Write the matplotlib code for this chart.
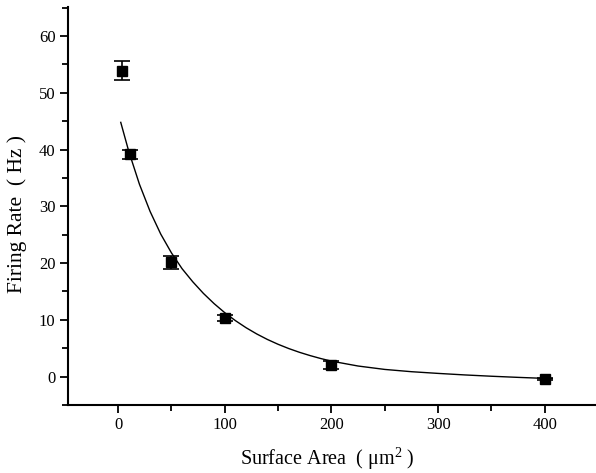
import numpy as np
import matplotlib.pyplot as plt
from matplotlib.ticker import MultipleLocator

# datos medidos
area = [3.5, 11, 50, 100, 200, 400]
tasa = [53.9, 39.2, 20.1, 10.3, 2.0, -0.5]
error = [1.7, 0.8, 1.1, 0.6, 0.7, 0.2]

# curva de ajuste
curva_x = [2.5, 10, 20, 30, 40, 50, 60, 70, 80, 90, 100, 110, 120, 130,
           140, 150, 160, 170, 180, 190, 200, 225, 250, 275, 300, 325,
           350, 375, 400, 407]
curva_y = [44.8, 39.7, 33.9, 29.1, 25.1, 21.8, 19.0, 16.7, 14.65, 12.85,
           11.25, 9.85, 8.6, 7.5, 6.53, 5.68, 4.93, 4.27, 3.69, 3.17, 2.71,
           1.85, 1.25, 0.85, 0.55, 0.28, 0.05, -0.15, -0.33, -0.37]

plt.rcParams['font.family'] = ['Liberation Serif', 'DejaVu Serif']
plt.rcParams['mathtext.fontset'] = 'custom'
plt.rcParams['mathtext.rm'] = 'Liberation Serif'

fig = plt.figure(figsize=(5.96, 4.73), dpi=100)
ax = fig.add_axes([0.114, 0.144, 0.886, 0.842])

ax.plot(curva_x, curva_y, color='black', linewidth=1.0)
ax.errorbar(area, tasa, yerr=error, fmt='s', color='black', markersize=7,
            capsize=6, elinewidth=1.2, capthick=1.2)

ax.set_xlim(-47, 448)
ax.set_ylim(-5, 65.2)
ax.xaxis.set_major_locator(MultipleLocator(100))
ax.xaxis.set_minor_locator(MultipleLocator(50))
ax.yaxis.set_major_locator(MultipleLocator(10))
ax.yaxis.set_minor_locator(MultipleLocator(5))

for lado in ['top', 'right']:
    ax.spines[lado].set_visible(False)
for lado in ['left', 'bottom']:
    ax.spines[lado].set_linewidth(1.5)

ax.tick_params(which='major', direction='out', length=6, width=1.3,
               labelsize=12, pad=3)
ax.tick_params(which='minor', direction='out', length=4, width=1.3)

ax.set_xlabel(r'Surface Area  ( μm$\mathrm{^2}$ )', fontsize=14.5)
ax.set_ylabel('Firing Rate  ( Hz )', fontsize=15.5)
ax.xaxis.set_label_coords(0.49, -0.103)
ax.yaxis.set_label_coords(-0.078, 0.48)

fig.savefig('out.png', dpi=100)
